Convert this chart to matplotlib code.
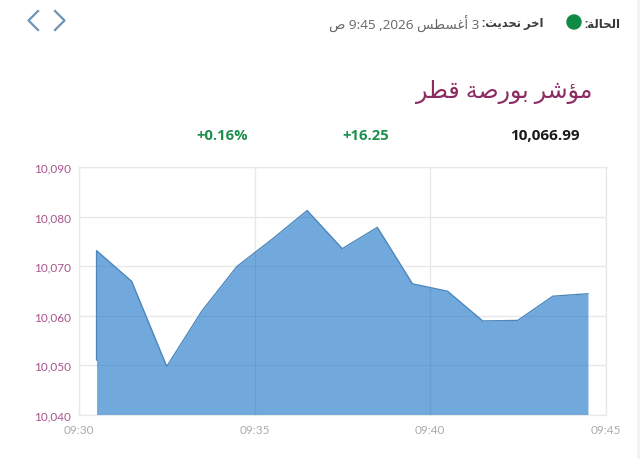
#!/usr/bin/python
import re
import matplotlib
matplotlib.use('Agg')
import matplotlib.pyplot as plt
from matplotlib.lines import Line2D
from matplotlib.patches import Circle, Rectangle

# minutes after 09:30, the first point is repeated as the series opens with a jump
minutes = [0.5, 0.5, 1.5, 2.5, 3.5, 4.5, 5.5, 6.5, 7.5, 8.5, 9.5, 10.5, 11.5, 12.5, 13.5, 14.5]
index_values = [10051.0, 10073.1, 10066.9, 10049.7, 10060.9, 10069.9, 10075.4, 10081.2,
                10073.5, 10077.8, 10066.4, 10064.9, 10058.9, 10059.0, 10063.9, 10064.4]
y_ticks = [10040, 10050, 10060, 10070, 10080, 10090]
x_ticks = [0, 5, 10, 15]
x_labels = ['09:30', '09:35', '09:40', '09:45']

title = 'مؤشر بورصة قطر'
status_label = 'الحالة:'
update_label = 'اخر تحديث:'
update_time = '3 أغسطس 2026, 9:45 ص'
last_value = '10,066.99'
change_value = '+16.25'
change_percent = '+0.16%'

W, H = 640.0, 460.0
latin_font = ['Open Sans', 'DejaVu Sans']

# first presentation form of each letter: isolated, final, initial, medial
forms = {'ا': 0xFE8D, 'أ': 0xFE83, 'ؤ': 0xFE85, 'ر': 0xFEAD, 'د': 0xFEA9, 'و': 0xFEED, 'ة': 0xFE93,
         'ل': 0xFEDD, 'ح': 0xFEA1, 'خ': 0xFEA5, 'ت': 0xFE95, 'ي': 0xFEF1, 'ث': 0xFE99, 'غ': 0xFECD,
         'س': 0xFEB1, 'ط': 0xFEC1, 'ص': 0xFEB9, 'م': 0xFEE1, 'ش': 0xFEB5, 'ب': 0xFE8F, 'ق': 0xFED5}
right_only = 'اأؤردوة'


def shape(text):
    # matplotlib does no arabic shaping, so pick the joined forms and lay out right to left
    out = []
    for i, c in enumerate(text):
        if c not in forms:
            out.append(c)
            continue
        prev = text[i - 1] if i > 0 else ' '
        nxt = text[i + 1] if i + 1 < len(text) else ' '
        joins_prev = prev in forms and prev not in right_only
        joins_next = nxt in forms and c not in right_only
        out.append(chr(forms[c] + (1 if joins_prev else 0) + (2 if joins_next else 0)))
    visual = ''.join(out)[::-1]
    return re.sub(r'\d[\d:]*\d|\d', lambda m: m.group(0)[::-1], visual)


def put(x, y, s, **kw):
    fig.text(x / W, 1 - y / H, s, va='center', **kw)


fig = plt.figure(figsize=(6.4, 4.6), dpi=100)
ax = fig.add_axes([79 / W, 1 - 415.5 / H, 526.5 / W, 247.5 / H])

area = ax.fill_between(minutes, index_values, 10040, color='#5F9DD8', alpha=0.88, lw=0, zorder=3)
ax.plot(minutes, index_values, color='#4C88BC', lw=1.0, zorder=4)

ax.set_xlim(0, 15)
ax.set_ylim(10040, 10090)
ax.set_yticks(y_ticks)
ax.set_yticklabels(['{:,}'.format(v) for v in y_ticks], family='Lato', fontsize=8.5, color='#A8548C')
ax.set_xticks(x_ticks)
ax.set_xticklabels(x_labels, family='Lato', fontsize=8.5, color='#ABABAB')
ax.tick_params(axis='both', length=0)
ax.tick_params(axis='y', pad=6)
ax.tick_params(axis='x', pad=7)
ax.grid(True, color='#EBE6EA', lw=0.9, zorder=1)
ax.set_axisbelow(True)
for spine in ax.spines.values():
    spine.set_color('#E8E8E8')
    spine.set_linewidth(0.9)

# the grid shows through the filled area as slightly darker lines
area_path = area.get_paths()[0]
for v in y_ticks[1:-1]:
    ln = ax.axhline(v, color='#4C88BC', lw=0.9, alpha=0.2, zorder=3.5)
    ln.set_clip_path(area_path, ax.transData)
for m in x_ticks[1:-1]:
    ln = ax.axvline(m, color='#4C88BC', lw=0.9, alpha=0.25, zorder=3.5)
    ln.set_clip_path(area_path, ax.transData)

# header
put(620, 24, shape(status_label), ha='right', family=latin_font, fontsize=8.5, weight='bold', color='#3A3A3A')
fig.add_artist(Circle((574, H - 23), 7, transform=None, color='#0F8A45'))
put(544, 24, shape(update_label), ha='right', family=latin_font, fontsize=8.3, weight='bold', color='#3A3A3A')
put(479, 24.5, shape(update_time), ha='right', family=latin_font, fontsize=9.7, color='#666666')
put(592, 92, shape(title), ha='right', family=latin_font, fontsize=17, color='#8C2A62')

put(545, 136, last_value, ha='center', family=latin_font, fontsize=11, weight='bold', color='#1A1A1A')
put(366, 136, change_value, ha='center', family=latin_font, fontsize=10.7, weight='bold', color='#1E8F4E')
put(222, 136, change_percent, ha='center', family=latin_font, fontsize=10.7, weight='bold', color='#1E8F4E')

# back / forward arrows
for xs in ([38, 28.5, 38], [55, 64.5, 55]):
    fig.add_artist(Line2D([x / W for x in xs], [1 - y / H for y in (12, 21.5, 31)],
                          color='#6E93B5', lw=1.6))

# page edge on the right
fig.add_artist(Rectangle((637 / W, 0), 3 / W, 1, transform=fig.transFigure, color='#F4F4F4', lw=0))

plt.savefig('out.png', dpi=100)
